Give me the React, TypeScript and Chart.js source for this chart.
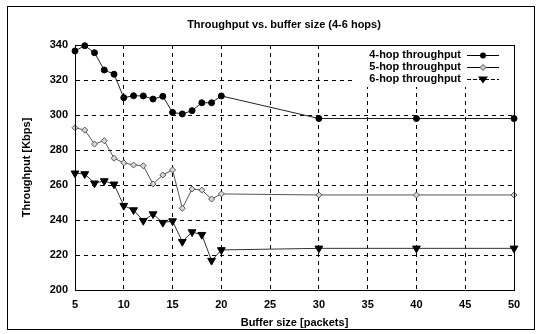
import React, { useEffect, useRef } from "react";
import { Chart, registerables } from "chart.js";

Chart.register(...registerables);

const bufferSizes = [5, 6, 7, 8, 9, 10, 11, 12, 13, 14, 15, 16, 17, 18, 19, 20, 30, 40, 50];
const hop4 = [336.6, 339.6, 335.6, 325.7, 323.3, 309.9, 311, 310.9, 309.1, 310.7, 301.5, 300.6, 302.5, 307, 307, 310.9, 298, 298, 298];
const hop5 = [292.7, 291.4, 283.4, 285.3, 275.3, 272.7, 271.4, 271, 260.6, 265.7, 268.6, 246.7, 257.7, 257.1, 252, 254.9, 254.3, 254.3, 254.3];
const hop6 = [266.7, 266.3, 261, 262.3, 260.4, 248.2, 245.7, 239.6, 243.4, 238.5, 239.4, 227.6, 233.1, 231.6, 216.8, 222.9, 223.8, 223.8, 223.8];
const seriesLabels = ["4-hop throughput", "5-hop throughput", "6-hop throughput"];
const titleText = "Throughput vs. buffer size (4-6 hops)";
const xTitle = "Buffer size [packets]";
const yTitle = "Throughput [Kbps]";

const FONT = "'Liberation Sans', Arial, sans-serif";

const decorPlugin = {
  id: "decor",
  beforeDatasetsDraw(chart: any) {
    const { ctx, chartArea } = chart;
    ctx.save();
    ctx.fillStyle = "#fff";
    ctx.fillRect(352, Math.round(chartArea.top) + 1, Math.round(chartArea.right) - 352, 41);
    ctx.restore();
  },
  afterDraw(chart: any) {
    const { ctx, chartArea } = chart;
    ctx.save();
    ctx.strokeStyle = "#000";
    ctx.lineWidth = 1;
    ctx.setLineDash([]);
    ctx.strokeRect(7.5, 6.5, 527, 323);
    ctx.strokeRect(
      Math.round(chartArea.left) + 0.5,
      Math.round(chartArea.top) + 0.5,
      Math.round(chartArea.right - chartArea.left),
      Math.round(chartArea.bottom - chartArea.top)
    );
    ctx.fillStyle = "#000";
    ctx.font = `bold 11px ${FONT}`;
    ctx.textAlign = "center";
    ctx.textBaseline = "middle";
    ctx.fillText(titleText, 284, 25);
    const ds = chart.data.datasets;
    const textRight = 461;
    const lineL = 467;
    const lineR = 499;
    ds.forEach((d: any, i: number) => {
      const y = 55 + i * 12;
      ctx.fillStyle = "#000";
      ctx.textAlign = "right";
      ctx.textBaseline = "middle";
      ctx.font = `bold 11px ${FONT}`;
      ctx.fillText(d.label, textRight, y);
      ctx.beginPath();
      ctx.strokeStyle = "#000";
      ctx.lineWidth = 1;
      ctx.setLineDash(i === 2 ? [4, 2] : []);
      const cy = Math.round(y) + 0.5;
      ctx.moveTo(lineL, cy);
      ctx.lineTo(lineR, cy);
      ctx.stroke();
      ctx.setLineDash([]);
      const cx = (lineL + lineR) / 2;
      ctx.beginPath();
      if (i === 0) {
        ctx.fillStyle = "#000";
        ctx.arc(cx, cy, 3, 0, Math.PI * 2);
        ctx.fill();
      } else if (i === 1) {
        ctx.fillStyle = "#ccc";
        ctx.strokeStyle = "#555";
        ctx.moveTo(cx, cy - 3);
        ctx.lineTo(cx + 3, cy);
        ctx.lineTo(cx, cy + 3);
        ctx.lineTo(cx - 3, cy);
        ctx.closePath();
        ctx.fill();
        ctx.stroke();
      } else {
        ctx.fillStyle = "#000";
        ctx.moveTo(cx - 5, cy - 3);
        ctx.lineTo(cx + 5, cy - 3);
        ctx.lineTo(cx, cy + 4);
        ctx.closePath();
        ctx.fill();
      }
    });
    ctx.restore();
  },
};

export default function App() {
  const canvasRef = useRef<HTMLCanvasElement>(null);

  useEffect(() => {
    if (!canvasRef.current) return;
    const mk = (vals: number[]) => bufferSizes.map((x, i) => ({ x, y: vals[i] }));
    const chart = new Chart(canvasRef.current, {
      type: "line",
      data: {
        datasets: [
          {
            label: seriesLabels[0],
            data: mk(hop4),
            borderColor: "#222",
            borderWidth: 1,
            backgroundColor: "#000",
            pointStyle: "circle",
            pointRadius: 3,
            pointBorderColor: "#000",
            pointBackgroundColor: "#000",
            pointBorderWidth: 1,
            clip: false,
          },
          {
            label: seriesLabels[1],
            data: mk(hop5),
            borderColor: "#555",
            borderWidth: 1,
            backgroundColor: "#ccc",
            pointStyle: "rectRot",
            pointRadius: 3,
            pointBorderColor: "#555",
            pointBackgroundColor: "#d8d8d8",
            pointBorderWidth: 1,
            clip: false,
          },
          {
            label: seriesLabels[2],
            data: mk(hop6),
            borderColor: "#333",
            borderWidth: 1,
            backgroundColor: "#000",
            pointStyle: "triangle",
            pointRotation: 180,
            pointRadius: 4.5,
            pointBorderColor: "#000",
            pointBackgroundColor: "#000",
            pointBorderWidth: 1,
            clip: false,
          },
        ],
      },
      options: {
        animation: false,
        responsive: false,
        devicePixelRatio: 1,
        layout: { padding: { top: 45, right: 23, left: 0, bottom: 0 } },
        plugins: {
          legend: { display: false },
          title: { display: false },
          tooltip: { enabled: false },
        },
        scales: {
          x: {
            type: "linear",
            min: 5,
            max: 50,
            afterFit: (s: any) => {
              s.height = 44;
            },
            ticks: {
              stepSize: 5,
              color: "#000",
              padding: 8,
              font: { family: FONT, size: 11, weight: "bold" },
            },
            grid: { color: "#000", lineWidth: 1, drawTicks: false },
            border: { display: true, color: "#000", width: 1, dash: [4, 4] },
            title: {
              display: true,
              text: xTitle,
              color: "#000",
              font: { family: FONT, size: 11, weight: "bold" },
              padding: { top: 0, bottom: 4 },
            },
          },
          y: {
            type: "linear",
            min: 200,
            max: 340,
            afterFit: (s: any) => {
              s.width = 75;
            },
            ticks: {
              stepSize: 20,
              color: "#000",
              padding: 7,
              font: { family: FONT, size: 11, weight: "bold" },
            },
            grid: { color: "#000", lineWidth: 1, drawTicks: false },
            border: { display: true, color: "#000", width: 1, dash: [4, 4] },
            title: {
              display: true,
              text: yTitle,
              color: "#000",
              font: { family: FONT, size: 11, weight: "bold" },
              padding: { top: 20, bottom: 0 },
            },
          },
        },
      },
      plugins: [decorPlugin],
    });
    return () => chart.destroy();
  }, []);

  return (
    <div style={{ position: "fixed", left: 0, top: 0, width: 537, height: 334, background: "#fff" }}>
      <canvas ref={canvasRef} width={537} height={334} style={{ width: 537, height: 334, display: "block" }} />
    </div>
  );
}
